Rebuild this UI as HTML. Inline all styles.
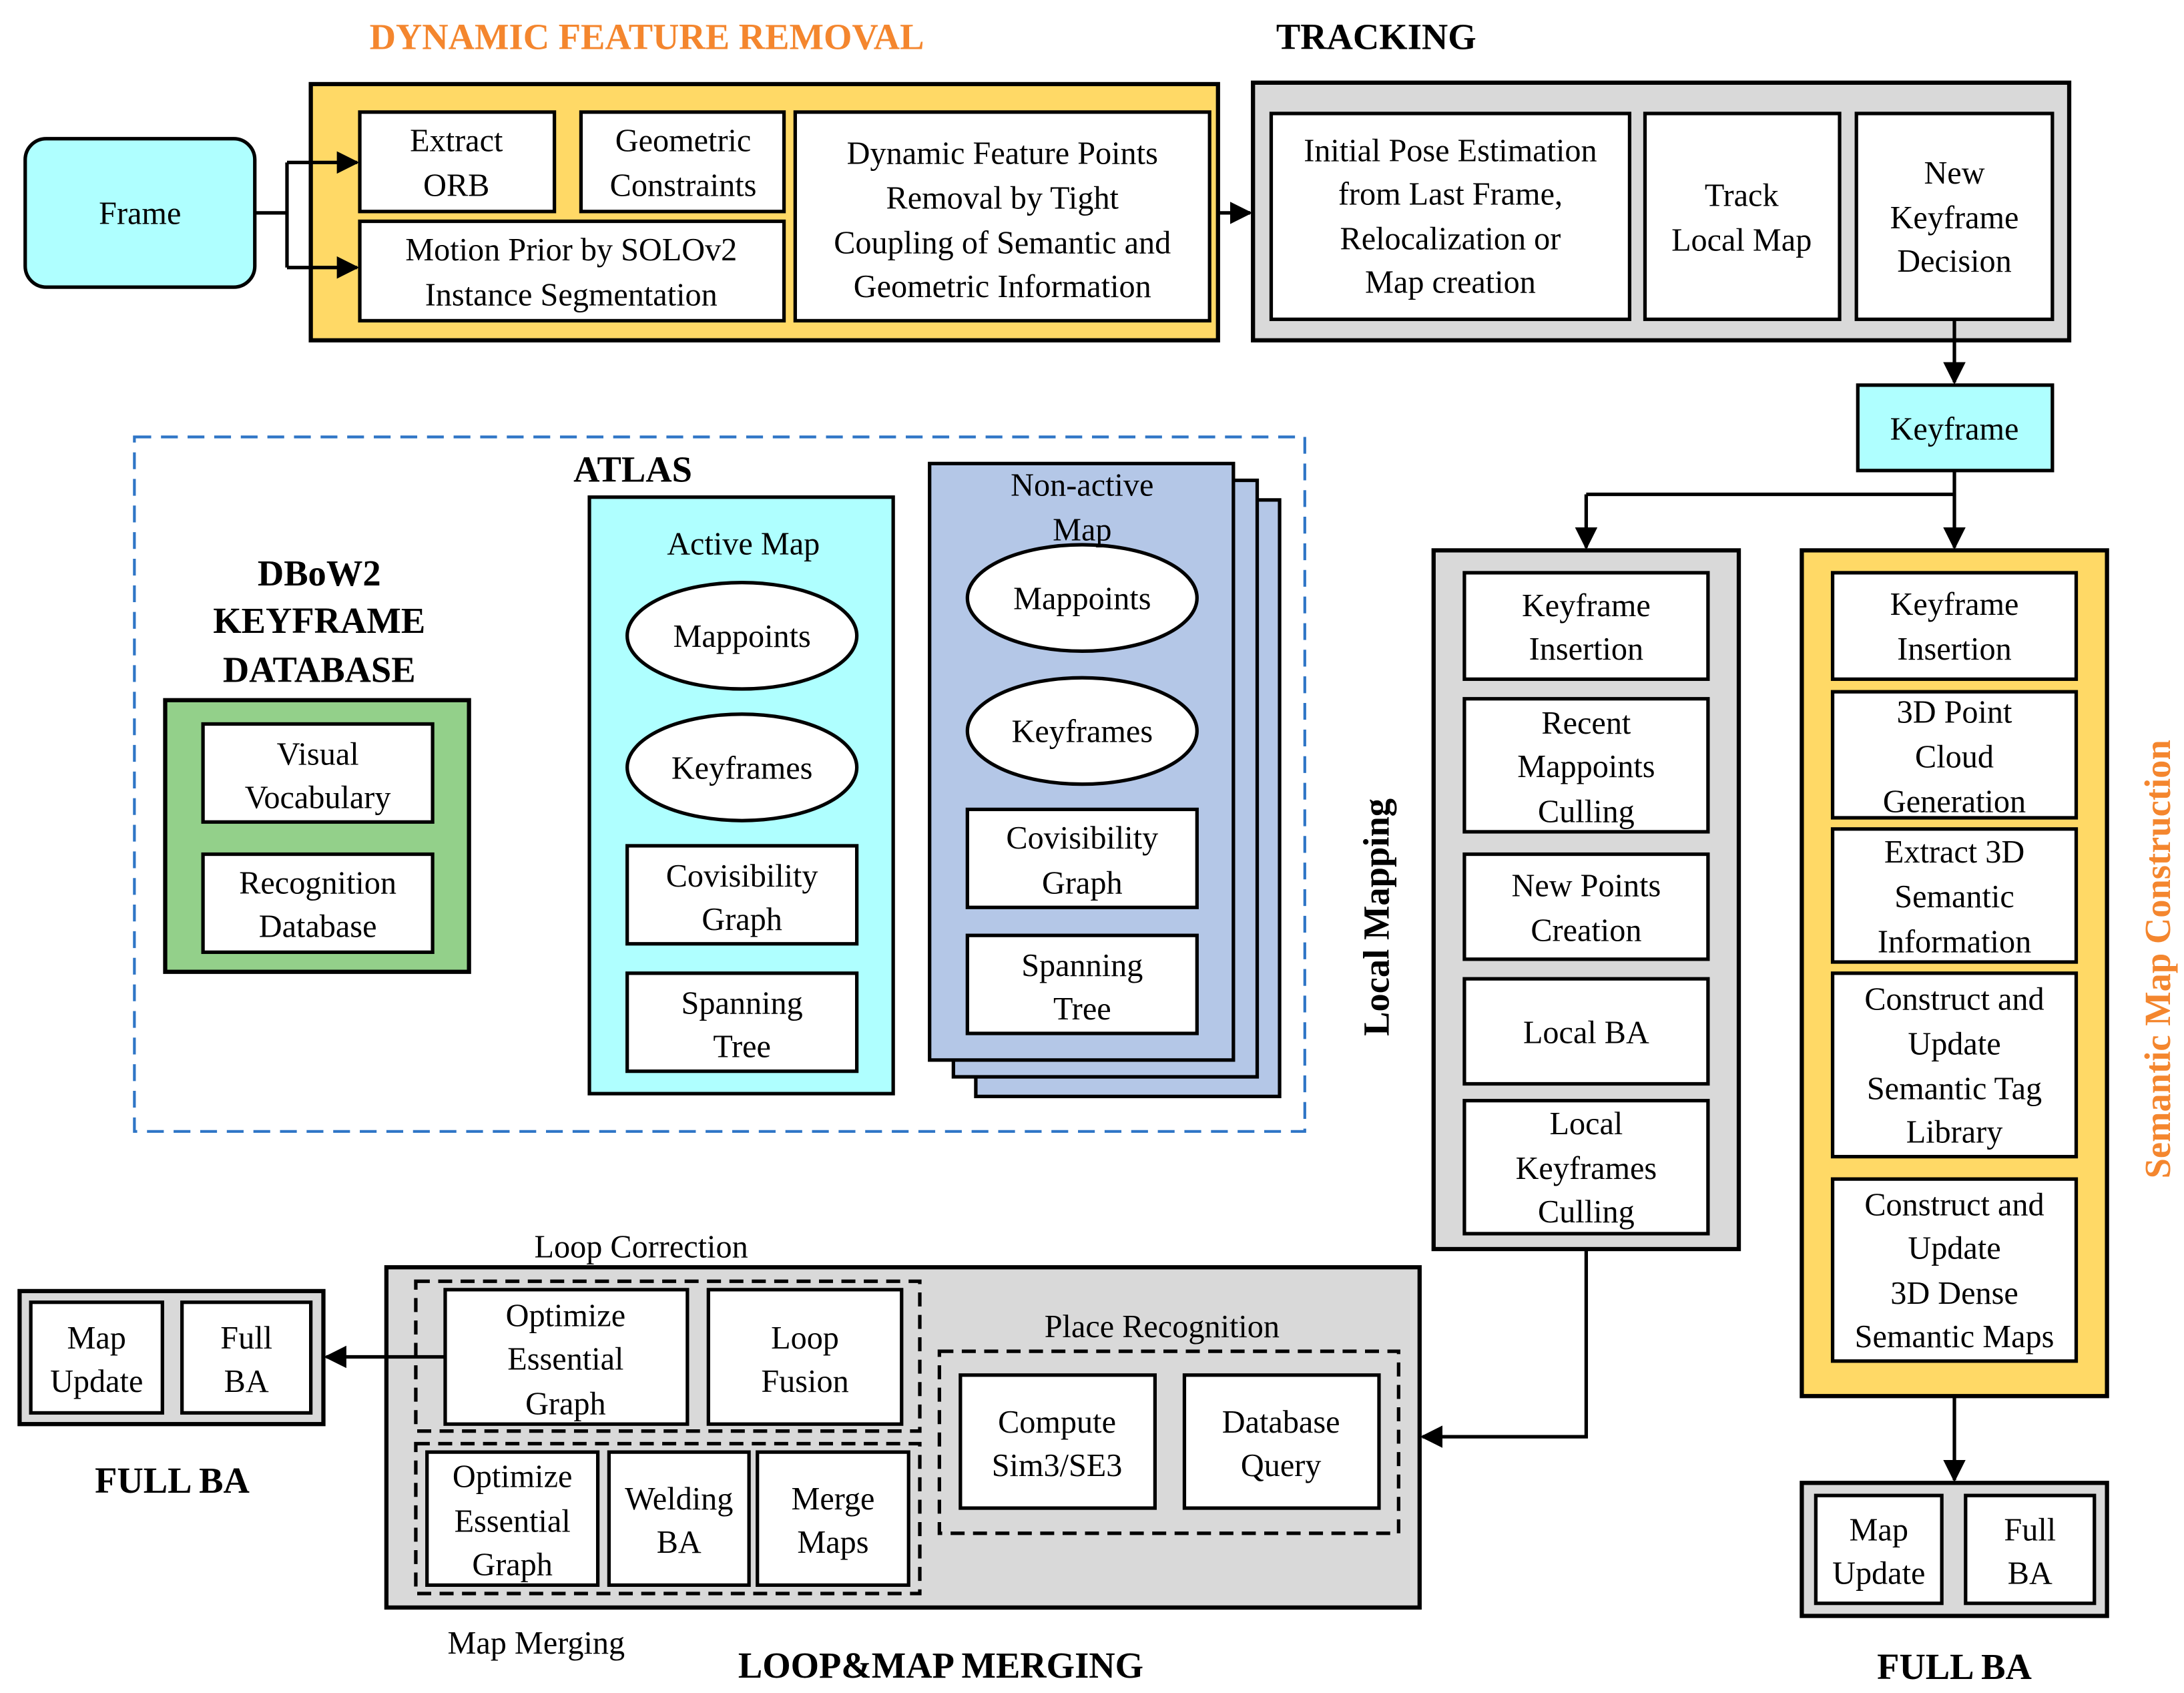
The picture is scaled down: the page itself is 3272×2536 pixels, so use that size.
<!DOCTYPE html>
<html><head><meta charset="utf-8"><style>html,body{margin:0;padding:0;background:#fff}svg{display:block;font-family:"Liberation Serif","Times New Roman",serif}svg text{font-family:"Liberation Serif","Times New Roman",serif}</style></head><body>
<svg xmlns="http://www.w3.org/2000/svg" width="3272" height="2536" viewBox="0 0 1560 1209" font-size="23">
<defs>
<marker id="b" viewBox="0 0 10 10" markerWidth="16" markerHeight="16" refX="9" refY="5" orient="auto" markerUnits="userSpaceOnUse"><path d="M0,0 L10,5 L0,10 z" fill="#000"/></marker></defs>
<g stroke="#000" stroke-width="2.5" fill="#fff">
<rect x="18" y="99" width="164" height="106" rx="15" fill="#AFFFFF"/>
<rect x="222" y="60" width="648" height="183" fill="#FFD966" stroke-width="3"/>
<rect x="257" y="80" width="139" height="71"/><rect x="415" y="80" width="145" height="71"/>
<rect x="257" y="158" width="303" height="71"/><rect x="568" y="80" width="296" height="149"/>
<rect x="895" y="59" width="583" height="184" fill="#D9D9D9" stroke-width="3"/>
<rect x="908" y="81" width="256" height="147"/><rect x="1175" y="81" width="139" height="147"/><rect x="1326" y="81" width="140" height="147"/>
<rect x="1327" y="275" width="139" height="61" fill="#AFFFFF"/>
<rect x="1024" y="393" width="218" height="499" fill="#D9D9D9" stroke-width="3"/>
<rect x="1046" y="409" width="174" height="76"/><rect x="1046" y="499" width="174" height="95"/><rect x="1046" y="610" width="174" height="75"/><rect x="1046" y="699" width="174" height="75"/><rect x="1046" y="786" width="174" height="95"/>
<rect x="1287" y="393" width="218" height="604" fill="#FFD966" stroke-width="3"/>
<rect x="1309" y="409" width="174" height="76"/><rect x="1309" y="494" width="174" height="90"/><rect x="1309" y="592" width="174" height="95"/><rect x="1309" y="695" width="174" height="131"/><rect x="1309" y="842" width="174" height="130"/>
<rect x="1287" y="1059" width="218" height="95" fill="#D9D9D9" stroke-width="3"/>
<rect x="1297" y="1068" width="90" height="77"/><rect x="1404" y="1068" width="92" height="77"/>
<rect x="276" y="905" width="738" height="243" fill="#D9D9D9" stroke-width="3"/>
<rect x="297" y="915" width="360" height="107" fill="none" stroke-dasharray="10,6"/>
<rect x="297" y="1031" width="360" height="107" fill="none" stroke-dasharray="10,6"/>
<rect x="671" y="965" width="328" height="130" fill="none" stroke-dasharray="10,6"/>
<rect x="318" y="921" width="173" height="96"/><rect x="506" y="921" width="138" height="96"/>
<rect x="305" y="1037" width="122" height="95"/><rect x="435" y="1037" width="100" height="95"/><rect x="541" y="1037" width="108" height="95"/>
<rect x="686" y="982" width="139" height="95"/><rect x="846" y="982" width="139" height="95"/>
<rect x="14" y="922" width="217" height="95" fill="#D9D9D9" stroke-width="3"/>
<rect x="22" y="930" width="94" height="79"/><rect x="130" y="930" width="92" height="79"/>
<rect x="96" y="312" width="836" height="496" fill="none" stroke="#2E75C6" stroke-dasharray="12,7" stroke-width="2"/>
<rect x="118" y="500" width="217" height="194" fill="#93D08A" stroke-width="3"/>
<rect x="145" y="517" width="164" height="70"/><rect x="145" y="610" width="164" height="70"/>
<rect x="421" y="355" width="217" height="426" fill="#AFFFFF"/>
<ellipse cx="530" cy="454" rx="82" ry="38"/><ellipse cx="530" cy="548" rx="82" ry="38"/>
<rect x="448" y="604" width="164" height="70"/><rect x="448" y="695" width="164" height="70"/>
<rect x="697" y="357" width="217" height="426" fill="#B4C7E7"/><rect x="681" y="343" width="217" height="426" fill="#B4C7E7"/><rect x="664" y="331" width="217" height="426" fill="#B4C7E7"/>
<ellipse cx="773" cy="427" rx="82" ry="38"/><ellipse cx="773" cy="522" rx="82" ry="38"/>
<rect x="691" y="578" width="164" height="70"/><rect x="691" y="668" width="164" height="70"/>
</g>
<g stroke="#000" stroke-width="2.5" fill="none">
<path d="M182,152 H205 M205,116 V191"/>
<path d="M205,116 H255" marker-end="url(#b)"/><path d="M205,191 H255" marker-end="url(#b)"/>
<path d="M870,152 H893" marker-end="url(#b)"/>
<path d="M1396,228 V273" marker-end="url(#b)"/>
<path d="M1396,336 V353 M1133,353 H1396"/>
<path d="M1133,353 V391" marker-end="url(#b)"/><path d="M1396,353 V391" marker-end="url(#b)"/>
<path d="M1396,997 V1057" marker-end="url(#b)"/>
<path d="M1133,892 V1026 H1016" marker-end="url(#b)"/>
<path d="M318,969 H233" marker-end="url(#b)"/>
</g>
<g text-anchor="middle" fill="#000">
<text x="462" y="35" font-weight="bold" font-size="26" fill="#F4862E">DYNAMIC FEATURE REMOVAL</text>
<text x="983" y="35" font-weight="bold" font-size="26">TRACKING</text>
<text x="100" y="160">Frame</text>
<text x="326" y="108">Extract</text><text x="326" y="140">ORB</text>
<text x="488" y="108">Geometric</text><text x="488" y="140">Constraints</text>
<text x="408" y="186">Motion Prior by SOLOv2</text><text x="408" y="218">Instance Segmentation</text>
<text x="716" y="117">Dynamic Feature Points</text><text x="716" y="149">Removal by Tight</text><text x="716" y="181">Coupling of Semantic and</text><text x="716" y="212">Geometric Information</text>
<text x="1036" y="115">Initial Pose Estimation</text><text x="1036" y="146">from Last Frame,</text><text x="1036" y="178">Relocalization or</text><text x="1036" y="209">Map creation</text>
<text x="1244" y="147">Track</text><text x="1244" y="179">Local Map</text>
<text x="1396" y="131">New</text><text x="1396" y="163">Keyframe</text><text x="1396" y="194">Decision</text>
<text x="1396" y="314">Keyframe</text>
<text x="1133" y="440">Keyframe</text><text x="1133" y="471">Insertion</text>
<text x="1133" y="524">Recent</text><text x="1133" y="555">Mappoints</text><text x="1133" y="587">Culling</text>
<text x="1133" y="640">New Points</text><text x="1133" y="672">Creation</text>
<text x="1133" y="745">Local BA</text>
<text x="1133" y="810">Local</text><text x="1133" y="842">Keyframes</text><text x="1133" y="873">Culling</text>
<text x="1396" y="439">Keyframe</text><text x="1396" y="471">Insertion</text>
<text x="1396" y="516">3D Point</text><text x="1396" y="548">Cloud</text><text x="1396" y="580">Generation</text>
<text x="1396" y="616">Extract 3D</text><text x="1396" y="648">Semantic</text><text x="1396" y="680">Information</text>
<text x="1396" y="721">Construct and</text><text x="1396" y="753">Update</text><text x="1396" y="785">Semantic Tag</text><text x="1396" y="816">Library</text>
<text x="1396" y="868">Construct and</text><text x="1396" y="899">Update</text><text x="1396" y="931">3D Dense</text><text x="1396" y="962">Semantic Maps</text>
<text x="1342" y="1100">Map</text><text x="1342" y="1131">Update</text>
<text x="1450" y="1100">Full</text><text x="1450" y="1131">BA</text>
<text x="1396" y="1199" font-weight="bold" font-size="26">FULL BA</text>
<text transform="translate(992,655) rotate(-90)" font-weight="bold" font-size="26">Local Mapping</text>
<text transform="translate(1550,685) rotate(-90)" font-weight="bold" font-size="26" fill="#F4862E">Semantic Map Construction</text>
<text x="458" y="898">Loop Correction</text>
<text x="404" y="947">Optimize</text><text x="404" y="978">Essential</text><text x="404" y="1010">Graph</text>
<text x="575" y="963">Loop</text><text x="575" y="994">Fusion</text>
<text x="366" y="1062">Optimize</text><text x="366" y="1094">Essential</text><text x="366" y="1125">Graph</text>
<text x="485" y="1078">Welding</text><text x="485" y="1109">BA</text>
<text x="595" y="1078">Merge</text><text x="595" y="1109">Maps</text>
<text x="383" y="1181">Map Merging</text>
<text x="830" y="955">Place Recognition</text>
<text x="755" y="1023">Compute</text><text x="755" y="1054">Sim3/SE3</text>
<text x="915" y="1023">Database</text><text x="915" y="1054">Query</text>
<text x="672" y="1198" font-weight="bold" font-size="26">LOOP&amp;MAP MERGING</text>
<text x="69" y="963">Map</text><text x="69" y="994">Update</text>
<text x="176" y="963">Full</text><text x="176" y="994">BA</text>
<text x="123" y="1066" font-weight="bold" font-size="26">FULL BA</text>
<text x="452" y="344" font-weight="bold" font-size="26">ATLAS</text>
<text x="228" y="418" font-weight="bold" font-size="26">DBoW2</text><text x="228" y="452" font-weight="bold" font-size="26">KEYFRAME</text><text x="228" y="487" font-weight="bold" font-size="26">DATABASE</text>
<text x="227" y="546">Visual</text><text x="227" y="577">Vocabulary</text>
<text x="227" y="638">Recognition</text><text x="227" y="669">Database</text>
<text x="531" y="396">Active Map</text>
<text x="530" y="462">Mappoints</text><text x="530" y="556">Keyframes</text>
<text x="530" y="633">Covisibility</text><text x="530" y="664">Graph</text>
<text x="530" y="724">Spanning</text><text x="530" y="755">Tree</text>
<text x="773" y="354">Non-active</text><text x="773" y="386">Map</text>
<text x="773" y="435">Mappoints</text><text x="773" y="530">Keyframes</text>
<text x="773" y="606">Covisibility</text><text x="773" y="638">Graph</text>
<text x="773" y="697">Spanning</text><text x="773" y="728">Tree</text>
</g>
</svg>
</body></html>
